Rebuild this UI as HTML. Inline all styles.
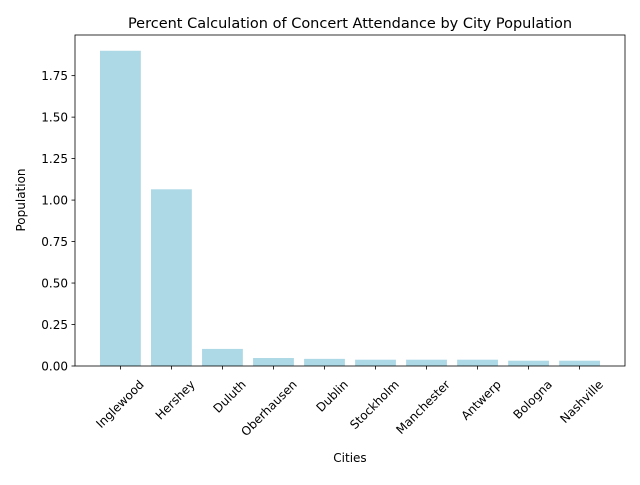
<!DOCTYPE html>
<html><head><meta charset="utf-8"><style>
body{margin:0;background:#fff;font-family:"Liberation Sans","DejaVu Sans",sans-serif;}
svg text{font-family:"DejaVu Sans","Liberation Sans",sans-serif;}
</style></head><body>
<svg id="chart" width="640" height="480" xmlns="http://www.w3.org/2000/svg">
<text x="350" y="28" text-anchor="middle" font-size="14.5">Percent Calculation of Concert Attendance by City Population</text>
<g id="bars"></g><g id="axes"></g>
<text x="350" y="462" text-anchor="middle" font-size="12">Cities</text>
<text transform="translate(25,200) rotate(-90)" text-anchor="middle" font-size="12">Population</text>
</svg>
<script>
const categories=["Inglewood","Hershey","Duluth","Oberhausen","Dublin","Stockholm","Manchester","Antwerp","Bologna","Nashville"];
const values=[1.90,1.065,0.103,0.048,0.043,0.038,0.038,0.038,0.032,0.032];
const yTicks=[0,0.25,0.5,0.75,1.0,1.25,1.5,1.75];
const yTickLabels=["0.00","0.25","0.50","0.75","1.00","1.25","1.50","1.75"];
const L=75,R=625,T=35,B=366;
const n=categories.length;
const xmin=-0.4-0.05*(n-0.2),xmax=n-1+0.4+0.05*(n-0.2);
const ymax=Math.max(...values)*1.05;
const x=v=>L+(v-xmin)/(xmax-xmin)*(R-L);
const y=v=>B-v/ymax*(B-T);
const NS="http://www.w3.org/2000/svg";
const bars=document.getElementById('bars'),axes=document.getElementById('axes');
function mk(tag,attrs,parent){const e=document.createElementNS(NS,tag);for(const k in attrs)e.setAttribute(k,attrs[k]);parent.appendChild(e);return e;}
values.forEach((v,i)=>{
 const r=mk('rect',{x:x(i-0.4),y:y(v),width:x(i+0.4)-x(i-0.4),height:B-y(v),fill:'#add8e6'},bars);
 
 
 const t=mk('line',{x1:x(i),x2:x(i),y1:B,y2:B+3.5,stroke:'#000','stroke-width':0.8},axes);
 
 
 const lb=mk('text',{transform:`translate(${x(i)+18},${B+13}) rotate(-45)`,'text-anchor':'end','dominant-baseline':'hanging','font-size':'12'},axes);
 lb.textContent=categories[i];
 
 
});
yTicks.forEach((v,i)=>{
 const t=mk('line',{x1:L-3.5,x2:L,y1:y(v),y2:y(v),stroke:'#000','stroke-width':0.8},axes);
 
 
 const lb=mk('text',{x:L-7,y:y(v)+4.5,'text-anchor':'end','font-size':'12'},axes);
 lb.textContent=yTickLabels[i];
 
 
});
const fr=mk('rect',{x:L,y:T,width:R-L,height:B-T,fill:'none',stroke:'#000','stroke-width':0.8},axes);


</script>
</body></html>
